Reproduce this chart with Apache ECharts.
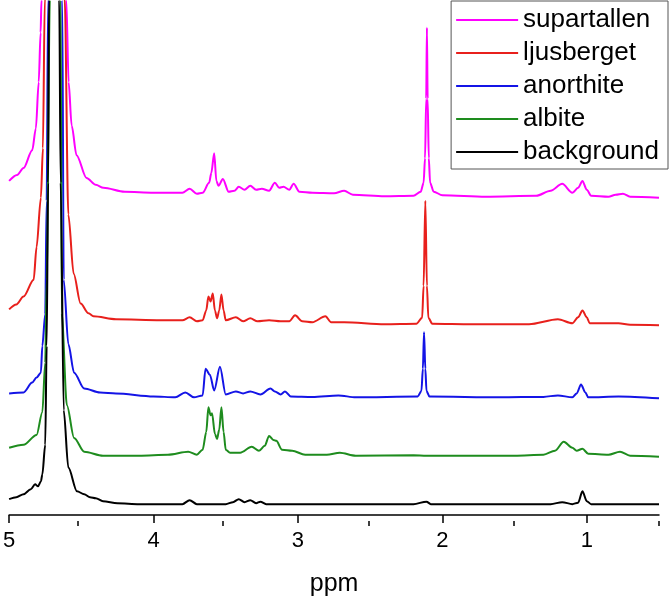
<!DOCTYPE html>
<html>
<head>
<meta charset="utf-8">
<script src="https://cdn.jsdelivr.net/npm/echarts@6/dist/echarts.min.js"></script>
<style>
  html, body { margin: 0; padding: 0; background: #fff; }
  #main { width: 669px; height: 602px; }
</style>
</head>
<body>
<div id="main"></div>
<script>
// ppm axis
const majorTicks = [5, 4, 3, 2, 1];
const minorTicks = [4.5, 3.5, 2.5, 1.5, 0.5];
const names = ['supartallen', 'ljusberget', 'anorthite', 'albite', 'background'];
const colors = ['#ff00ff', '#e8201c', '#1414e6', '#1e8c1e', '#000000'];
// vertical offset of each trace (stacked spectra)
const offsets = [64.2, 38.4, 23.6, 11.8, 2.2];

// [ppm, intensity], water peak goes off scale
const supartallen = [[5.00,3.4],[4.945,4.6],[4.90,6],[4.84,9.6],[4.815,14],[4.795,23.4],[4.782,33.4],[4.776,40],[4.69,1500],[4.604,40],[4.588,23.4],[4.567,14.6],[4.533,8.6],[4.464,4],[4.40,2.6],[4.347,2],[4.20,1.2],[4.00,1.0],[3.80,1.0],[3.75,1.8],[3.70,0.8],[3.66,1.0],[3.615,3.0],[3.60,5],[3.58,9],[3.565,3.4],[3.55,2.4],[3.52,3.8],[3.48,1.2],[3.44,1.4],[3.41,2.2],[3.37,1.6],[3.33,2.4],[3.29,1.6],[3.25,1.8],[3.20,1.4],[3.16,3.0],[3.13,2.0],[3.10,2.2],[3.06,1.6],[3.03,2.8],[2.99,1.2],[2.90,1.0],[2.75,0.9],[2.68,1.4],[2.62,0.6],[2.40,0.3],[2.20,0.4],[2.15,1.2],[2.13,3],[2.12,8],[2.112,20],[2.107,34.4],[2.102,20],[2.094,8],[2.085,3],[2.06,1.2],[2.00,0.5],[1.70,0.2],[1.35,0.4],[1.25,1.4],[1.17,2.8],[1.10,1.0],[1.06,2.0],[1.03,3.4],[1.00,1.6],[0.97,0.4],[0.85,0.2],[0.80,0.6],[0.75,0.8],[0.70,0.2],[0.50,0]];
const ljusberget = [[5.00,3.2],[4.95,4.2],[4.90,5.8],[4.83,9.2],[4.81,15.8],[4.78,25.8],[4.766,35.8],[4.753,66],[4.685,1500],[4.615,66],[4.59,22.4],[4.553,10.4],[4.505,4.4],[4.45,2.4],[4.416,1.8],[4.26,1.2],[3.95,1.0],[3.80,1.0],[3.75,1.6],[3.70,0.8],[3.66,1.0],[3.635,3],[3.62,5.8],[3.605,4.8],[3.59,6.4],[3.575,3],[3.56,1.4],[3.545,3],[3.53,6.2],[3.515,3],[3.50,1.0],[3.43,1.6],[3.38,0.8],[3.33,1.4],[3.28,0.8],[3.20,1.0],[3.12,0.8],[3.06,0.8],[3.02,2.0],[2.97,0.8],[2.90,0.6],[2.81,1.8],[2.77,0.6],[2.68,0.6],[2.40,0.2],[2.18,0.3],[2.14,1.5],[2.13,8],[2.118,25.2],[2.107,8],[2.097,1.5],[2.07,0.3],[1.80,0.2],[1.40,0.2],[1.20,1.2],[1.10,0.4],[1.06,1.6],[1.03,3.0],[1.00,1.6],[0.98,0.4],[0.78,0.4],[0.70,0.1],[0.50,0]];
const anorthite = [[5.00,1.0],[4.90,1.2],[4.84,3.2],[4.81,4.2],[4.78,5.2],[4.77,10.6],[4.75,17],[4.74,40],[4.73,80.6],[4.68,1500],[4.632,80.6],[4.622,24],[4.59,11],[4.55,5.2],[4.48,2.0],[4.37,1.2],[4.26,1.0],[4.00,0.4],[3.85,0.2],[3.78,1.2],[3.72,0.2],[3.66,0.6],[3.64,6],[3.61,4.8],[3.58,1.6],[3.54,6.4],[3.50,0.8],[3.43,1.4],[3.38,1.0],[3.33,1.4],[3.26,0.8],[3.19,2.0],[3.16,1.4],[3.12,0.8],[3.09,1.4],[3.05,0.4],[2.90,0.3],[2.72,0.6],[2.60,0.2],[2.17,0.4],[2.145,1.5],[2.135,6],[2.127,13.4],[2.118,6],[2.11,1.5],[2.09,0.4],[1.60,0.2],[1.30,0.3],[1.20,0.6],[1.10,0.2],[1.07,1.0],[1.04,2.8],[1.01,1.2],[0.99,0.2],[0.78,0.4],[0.50,0]];
const albite = [[5.00,1.8],[4.90,2.4],[4.81,4.4],[4.77,9],[4.75,19],[4.74,36],[4.718,92.4],[4.68,1500],[4.643,92.4],[4.636,29],[4.60,10.4],[4.55,3.8],[4.48,1.0],[4.35,0.2],[4.10,0.2],[3.90,0.4],[3.76,1.0],[3.70,0.4],[3.66,1.4],[3.635,5],[3.62,10],[3.605,8.4],[3.595,8.8],[3.575,4.6],[3.56,3.6],[3.545,5.5],[3.53,10],[3.515,5],[3.50,1.4],[3.47,0.8],[3.40,0.8],[3.32,2.0],[3.27,1.2],[3.23,2.2],[3.20,4.2],[3.17,3.4],[3.15,3.2],[3.11,1.4],[3.04,1.2],[2.95,0.4],[2.80,0.4],[2.71,0.8],[2.60,0.2],[2.20,0.3],[2.11,0.2],[1.50,0.2],[1.30,0.4],[1.22,1.2],[1.16,3.0],[1.10,1.8],[1.07,1.2],[1.03,1.6],[0.99,0.6],[0.85,0.4],[0.77,1.0],[0.70,0.2],[0.50,0]];
const background = [[5.00,1.0],[4.95,1.4],[4.90,2.0],[4.85,3.0],[4.82,4.0],[4.80,3.6],[4.78,4.6],[4.77,6],[4.75,12],[4.74,32],[4.73,65],[4.724,102],[4.69,1500],[4.653,102],[4.643,65],[4.622,19],[4.59,7.4],[4.53,2.6],[4.48,2.0],[4.44,1.4],[4.40,1.2],[4.35,0.6],[4.25,0.2],[4.10,0],[3.80,0],[3.75,0.8],[3.70,0],[3.50,0],[3.45,0.4],[3.41,1.0],[3.37,0.4],[3.33,0.8],[3.29,0.2],[3.26,0.5],[3.22,0],[2.20,0],[2.11,0.5],[2.08,0],[1.25,0],[1.17,0.4],[1.10,0],[1.06,0.3],[1.03,2.6],[1.00,0.6],[0.97,0],[0.50,0]];

const spectra = [supartallen, ljusberget, anorthite, albite, background];

let myChart = echarts.init(document.getElementById('main'));

let series = spectra.map(function (s, i) {
    return {
        name: names[i],
        type: 'line',
        symbol: 'none',
        clip: true,
        smooth: 0.3,
        smoothMonotone: 'x',
        xAxisIndex: 0,
        yAxisIndex: 0,
        lineStyle: { color: colors[i], width: 2 },
        itemStyle: { color: colors[i] },
        data: s.map(function (p) { return [p[0], p[1] + offsets[i]]; })
    };
});

let gridPos = { left: 5, right: 10, top: 0, bottom: 81 };

let option = {
    animation: false,
    textStyle: { fontFamily: 'Liberation Sans, Arial, sans-serif' },
    grid: [
        Object.assign({}, gridPos),
        Object.assign({}, gridPos)   // second grid only for the small ticks
    ],
    legend: {
        right: 1,
        top: 1,
        orient: 'vertical',
        padding: [6, 9, 4, 5],
        borderColor: '#555',
        borderWidth: 1,
        icon: 'rect',
        itemWidth: 62,
        itemHeight: 2,
        itemGap: 7,
        textStyle: { fontSize: 26, color: '#000', lineHeight: 26 },
        data: names
    },
    xAxis: [
        {
            type: 'value',
            gridIndex: 0,
            min: 0.5,
            max: 5,
            inverse: true,
            position: 'bottom',
            splitLine: { show: false },
            axisLine: { lineStyle: { color: '#000', width: 1.5 } },
            axisTick: { length: 8, lineStyle: { color: '#000', width: 1.5 }, customValues: majorTicks },
            axisLabel: { fontSize: 22, color: '#000', margin: 15, customValues: majorTicks },
            name: 'ppm',
            nameLocation: 'middle',
            nameGap: 57,
            nameTextStyle: { fontSize: 25, color: '#000' }
        },
        {
            type: 'value',
            gridIndex: 1,
            min: 0.5,
            max: 5,
            inverse: true,
            position: 'bottom',
            splitLine: { show: false },
            axisLine: { show: false },
            axisTick: { length: 5, lineStyle: { color: '#000', width: 1.5 }, customValues: minorTicks },
            axisLabel: { show: false }
        }
    ],
    yAxis: [
        { type: 'value', gridIndex: 0, min: 0, max: 104.2, show: false },
        { type: 'value', gridIndex: 1, min: 0, max: 104.2, show: false }
    ],
    series: series
};
myChart.setOption(option);
</script>
</body>
</html>
